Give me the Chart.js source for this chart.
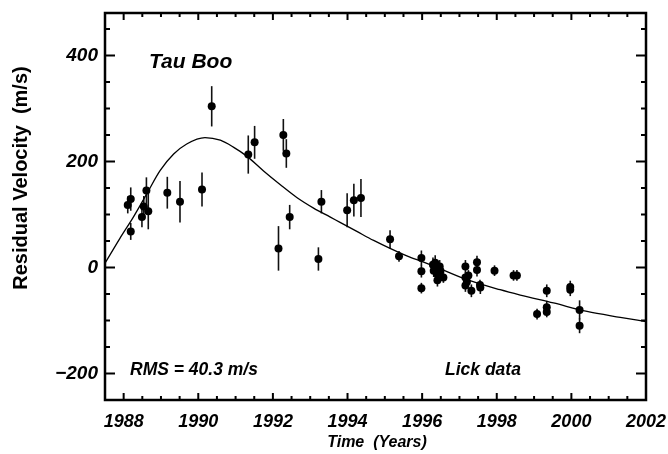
<!DOCTYPE html>
<html><head><meta charset="utf-8">
<script src="https://cdn.jsdelivr.net/npm/chart.js@4.4.1/dist/chart.umd.min.js"></script>
<style>html,body{margin:0;padding:0;background:#fff}canvas{display:block}</style>
</head><body>
<canvas id="c" width="668" height="454"></canvas>
<script>
// Observed residual velocities (Lick data)
const obsYears = [1988.11,1988.19,1988.19,1988.49,1988.54,1988.61,1988.66,1989.17,1989.51,1990.10,1990.36,1991.34,1991.51,1992.15,1992.28,1992.36,1992.45,1993.22,1993.30,1993.99,1994.17,1994.36,1995.14,1995.38,
  1995.98,1995.98,1995.98,1996.29,1996.35,1996.47,1996.31,1996.40,1996.41,1996.57,1996.49,1997.16,1997.16,1997.20,1997.16,1997.24,1997.32,1997.47,1997.47,1997.56,1997.55,1997.94,1998.45,1998.54,
  1999.08,1999.34,1999.34,1999.34,1999.97,1999.97,2000.22,2000.22];
const obsVel = [118,129,68,95,115,145,106,141,124,147,304,213,236,36,250,215,95,16,124,108,127,131,53,21,
  18,-7,-39,5,9,2,-6,-12,-24,-19,-6,2,-19,-27,-34,-15,-44,10,-5,-38,-33,-6,-15,-15,
  -88,-44,-75,-84,-37,-42,-80,-110];
const obsErr = [16,22,16,19,20,25,34,30,39,32,38,36,31,42,30,27,23,22,22,32,31,36,17,10,
  14,12,10,14,14,12,12,12,12,10,12,12,10,10,12,10,12,12,12,12,10,10,10,10,
  10,12,12,10,12,12,18,14];
// Fitted orbit curve
const fitYears = [1987.5,1987.9,1988.26,1988.62,1988.98,1989.34,1989.69,1990.18,1990.59,1990.94,1991.30,1991.75,1992.20,1992.64,1993.09,1993.54,1993.80,1994.25,1994.70,1995.14,1995.59,1996.04,1996.40,1997.20,1998.09,1998.63,1999.52,2000.42,2001.31,2002.0];
const fitVel = [8,55,95,139,183,214,233,245,240,227,210,182,156,132,112,95,85,68,51,36,22,10,0,-23,-42,-52,-67,-83,-94,-102];
// Tick labels
const xTickLabels = [1988,1990,1992,1994,1996,1998,2000,2002];
const yTickLabels = [-200,0,200,400];
const titleText = 'Tau Boo';
const rmsText = 'RMS = 40.3 m/s';
const sourceText = 'Lick data';
const yTitle = 'Residual Velocity  (m/s)';
const xTitle = 'Time  (Years)';

const FONT = '"Liberation Sans", Arial, Helvetica, sans-serif';

const frame = {
  id: 'frame',
  beforeDatasetsDraw(chart) {
    const {ctx} = chart;
    const x = chart.scales.x, y = chart.scales.y;
    ctx.save();
    ctx.strokeStyle = '#111';
    ctx.lineWidth = 1.6;
    for (let i = 0; i < obsYears.length; i++) {
      const px = x.getPixelForValue(obsYears[i]);
      const p1 = y.getPixelForValue(obsVel[i] - obsErr[i]);
      const p2 = y.getPixelForValue(obsVel[i] + obsErr[i]);
      ctx.beginPath(); ctx.moveTo(px, p1); ctx.lineTo(px, p2); ctx.stroke();
    }
    ctx.restore();
  },
  afterDraw(chart) {
    const {ctx, chartArea: a} = chart;
    const x = chart.scales.x, y = chart.scales.y;
    ctx.save();
    ctx.strokeStyle = '#000';
    ctx.lineWidth = 2.5;
    ctx.strokeRect(a.left, a.top, a.right - a.left, a.bottom - a.top);
    ctx.lineWidth = 2;
    ctx.beginPath();
    for (let v = x.min; v <= x.max + 1e-6; v += 0.5) {
      const px = x.getPixelForValue(v);
      const len = (Math.abs(v % 2) < 1e-6) ? 7 : 4;
      ctx.moveTo(px, a.bottom); ctx.lineTo(px, a.bottom - len);
      ctx.moveTo(px, a.top); ctx.lineTo(px, a.top + len);
    }
    for (let v = -250; v <= y.max + 1e-6; v += 50) {
      const py = y.getPixelForValue(v);
      const len = (Math.abs(v % 200) < 1e-6) ? 10 : 5;
      ctx.moveTo(a.left, py); ctx.lineTo(a.left + len, py);
      ctx.moveTo(a.right, py); ctx.lineTo(a.right - len, py);
    }
    ctx.stroke();
    ctx.fillStyle = '#000';
    ctx.textAlign = 'left';
    ctx.textBaseline = 'alphabetic';
    ctx.font = 'bold italic 21px ' + FONT;
    ctx.fillText(titleText, 149, 68);
    ctx.font = 'bold italic 17.5px ' + FONT;
    ctx.fillText(rmsText, 130, 375);
    ctx.fillText(sourceText, 445, 375);
    ctx.font = 'bold italic 16px ' + FONT;
    ctx.textAlign = 'center';
    ctx.fillText(xTitle, 377, 447);
    ctx.save();
    ctx.translate(27, 178);
    ctx.rotate(-Math.PI / 2);
    ctx.font = 'bold 20px ' + FONT;
    ctx.fillText(yTitle, 0, 0);
    ctx.restore();
    ctx.restore();
  }
};

new Chart(document.getElementById('c'), {
  type: 'scatter',
  data: {
    datasets: [
      {
        label: 'fit',
        data: fitYears.map((t, i) => ({x: t, y: fitVel[i]})),
        showLine: true,
        borderColor: '#000',
        borderWidth: 1.3,
        pointRadius: 0,
        cubicInterpolationMode: 'monotone',
        fill: false
      },
      {
        label: 'obs',
        data: obsYears.map((t, i) => ({x: t, y: obsVel[i]})),
        pointRadius: 4,
        pointBackgroundColor: '#000',
        pointBorderWidth: 0,
        borderColor: '#000'
      }
    ]
  },
  options: {
    responsive: false,
    animation: false,
    layout: {padding: {top: 13, right: 22, left: 0, bottom: 0}},
    plugins: {legend: {display: false}, tooltip: {enabled: false}},
    scales: {
      x: {
        type: 'linear', min: 1987.5, max: 2002,
        afterBuildTicks: s => { s.ticks = xTickLabels.map(v => ({value: v})); },
        afterFit: s => { s.height = 54; s.paddingLeft = 0; s.paddingRight = 0; s.paddingTop = 0; s.paddingBottom = 0; },
        grid: {display: false, drawTicks: false},
        border: {display: false},
        ticks: {color: '#000', padding: 11, maxRotation: 0, autoSkip: false,
          font: {family: FONT, size: 18, style: 'italic', weight: 'bold'},
          callback: v => String(v)}
      },
      y: {
        type: 'linear', min: -250, max: 480,
        afterBuildTicks: s => { s.ticks = yTickLabels.map(v => ({value: v})); },
        afterFit: s => { s.width = 105; s.paddingLeft = 0; s.paddingRight = 0; s.paddingTop = 0; s.paddingBottom = 0; },
        grid: {display: false, drawTicks: false},
        border: {display: false},
        ticks: {color: '#000', padding: 7, autoSkip: false,
          font: {family: FONT, size: 19, style: 'italic', weight: 'bold'},
          callback: v => v < 0 ? '\u2212' + Math.abs(v) : String(v)}
      }
    }
  },
  plugins: [frame]
});
</script>
</body></html>
